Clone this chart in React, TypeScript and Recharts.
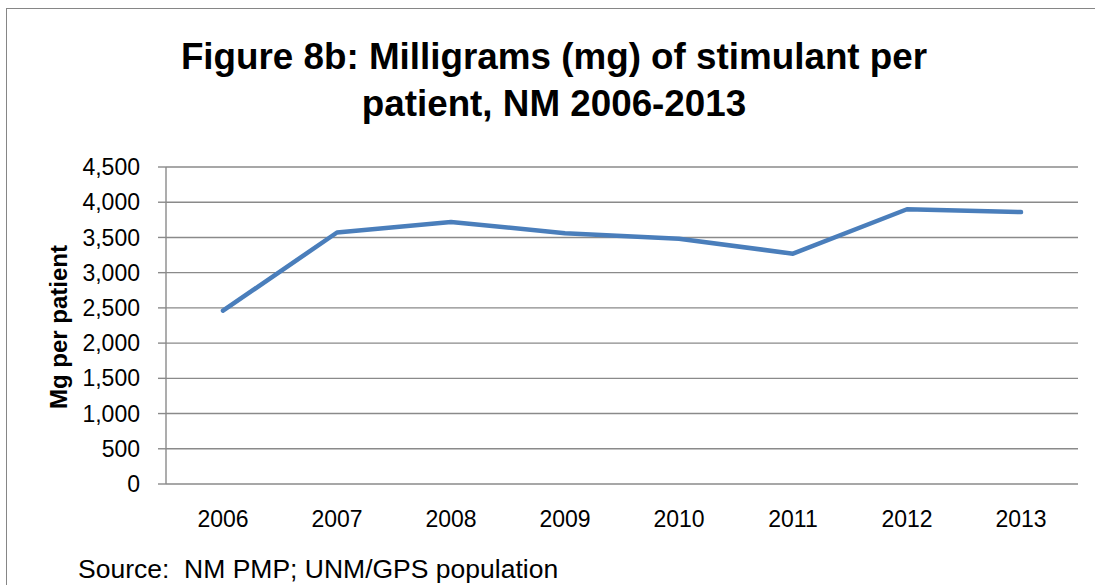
import { LineChart, Line, XAxis, YAxis, CartesianGrid } from "recharts";

// Values (mg per patient, by year)
const years = ["2006", "2007", "2008", "2009", "2010", "2011", "2012", "2013"];
const mgPerPatient = [2460, 3570, 3720, 3560, 3480, 3270, 3900, 3860];
const yTicks = [0, 500, 1000, 1500, 2000, 2500, 3000, 3500, 4000, 4500];
// category boundaries for the small tick marks under the x axis
const boundaryTicks = [0, 1, 2, 3, 4, 5, 6, 7, 8];

const titleLines = ["Figure 8b: Milligrams (mg) of stimulant per", "patient, NM 2006-2013"];

const data = years.map((y, i) => ({ year: y, mg: mgPerPatient[i] }));

const FONT = '"Liberation Sans", Arial, sans-serif';
const GRID = "#8a8a8a";

export default function App() {
  return (
    <div style={{ position: "absolute", left: 0, top: 0, width: 1095, height: 585, overflow: "hidden", background: "#fff", fontFamily: FONT }}>
      {/* chart frame (right/bottom edges fall outside the crop) */}
      <div style={{ position: "absolute", left: 6, top: 8, width: 1200, height: 700, border: "1.5px solid #868686" }} />

      {titleLines.map((t, i) => (
        <div
          key={i}
          style={{
            position: "absolute", left: 0, width: 1108, top: 33 + i * 47,
            textAlign: "center", fontSize: 36.8, lineHeight: "47px", fontWeight: 700, color: "#000",
          }}
        >
          {t}
        </div>
      ))}

      <div
        style={{
          position: "absolute", left: 58.7, top: 326.5, fontSize: 24, lineHeight: "24px",
          fontWeight: 700, whiteSpace: "nowrap", transform: "translate(-50%, -50%) rotate(-90deg)",
        }}
      >
        Mg per patient
      </div>

      <LineChart
        width={1095}
        height={585}
        data={data}
        margin={{ top: 167, right: 17, bottom: 0, left: 0 }}
        style={{ position: "absolute", left: 0, top: 0, fontFamily: FONT }}
      >
        <CartesianGrid vertical={false} stroke={GRID} strokeWidth={1.4} />
        <XAxis
          xAxisId="tk"
          type="number"
          domain={[0, 8]}
          ticks={boundaryTicks}
          height={0}
          tick={() => <g />}
          tickSize={8}
          stroke={GRID}
          strokeWidth={1.4}
        />
        <XAxis
          dataKey="year"
          height={101}
          padding={{ left: 57, right: 57 }}
          axisLine={false}
          tickLine={false}
          tickSize={0}
          tickMargin={27}
          tick={{ fill: "#000", fontSize: 23 }}
          interval={0}
        />
        <YAxis
          width={166}
          domain={[0, 4500]}
          ticks={yTicks}
          tickSize={8}
          tickMargin={18}
          stroke={GRID}
          strokeWidth={1.4}
          tick={{ fill: "#000", fontSize: 23 }}
          tickFormatter={(v: number) => v.toLocaleString("en-US")}
          interval={0}
        />
        <Line
          type="linear"
          dataKey="mg"
          stroke="#4a7ebb"
          strokeWidth={4.5}
          strokeLinecap="round"
          strokeLinejoin="round"
          dot={false}
          activeDot={false}
          isAnimationActive={false}
        />
      </LineChart>

      <div style={{ position: "absolute", left: 78, top: 555.6, fontSize: 26.5, lineHeight: "26.5px", whiteSpace: "pre", color: "#000" }}>
        {"Source:  NM PMP; UNM/GPS population"}
      </div>
    </div>
  );
}
